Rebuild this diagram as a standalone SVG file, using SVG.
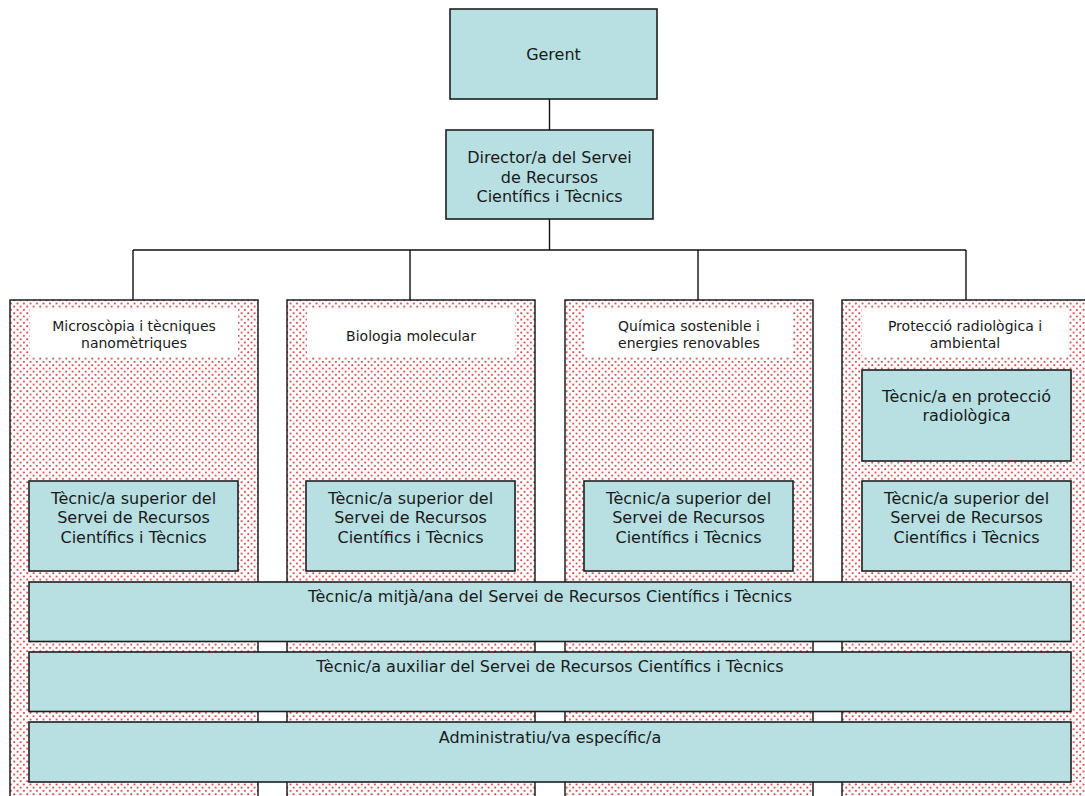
<svg xmlns="http://www.w3.org/2000/svg" width="1085" height="796" viewBox="0 0 1085 796">
  <defs>
    <!-- red dotted fill used by the department columns -->
    <pattern id="dots" width="6.5" height="6.5" patternUnits="userSpaceOnUse">
      <rect width="6.5" height="6.5" fill="#ffffff"/>
      <circle cx="1.2" cy="1.2" r="1" fill="#c62626"/>
      <circle cx="4.45" cy="4.45" r="1" fill="#c62626"/>
    </pattern>
    <style>
      .box { fill: #b8dfe2; stroke: #1e1e1e; stroke-width: 1.6; }
      .col { fill: url(#dots); stroke: #111111; stroke-width: 1.4; }
      .lbl { fill: #ffffff; stroke: none; }
      .t16 { font-family: Verdana, "DejaVu Sans", sans-serif; font-size: 16px; fill: #1a1a1a; text-anchor: middle; }
      .t14 { font-family: Verdana, "DejaVu Sans", sans-serif; font-size: 14px; fill: #1a1a1a; text-anchor: middle; }
      .wire { fill: none; stroke: #111111; stroke-width: 1.4; }
    </style>
  </defs>

  <rect width="1085" height="796" fill="#ffffff"/>

  <!-- connectors -->
  <g id="connectors">
    <line class="wire" x1="549.5" y1="99" x2="549.5" y2="130"/>
    <line class="wire" x1="549.5" y1="219" x2="549.5" y2="250"/>
    <line class="wire" x1="133" y1="250" x2="966" y2="250"/>
    <line class="wire" x1="133" y1="250" x2="133" y2="300"/>
    <line class="wire" x1="410" y1="250" x2="410" y2="300"/>
    <line class="wire" x1="698" y1="250" x2="698" y2="300"/>
    <line class="wire" x1="966" y1="250" x2="966" y2="300"/>
  </g>

  <!-- top management -->
  <g id="gerent">
    <rect class="box" x="450" y="9" width="207" height="90"/>
    <text class="t16" x="553.5" y="59.5">Gerent</text>
  </g>
  <g id="director">
    <rect class="box" x="446" y="130" width="207" height="89"/>
    <text class="t16" x="549.5" y="163">Director/a del Servei</text>
    <text class="t16" x="549.5" y="182.5">de Recursos</text>
    <text class="t16" x="549.5" y="202">Científics i Tècnics</text>
  </g>

  <!-- department columns -->
  <g id="col-microscopia">
    <rect class="col" x="10" y="300" width="248" height="510"/>
    <rect class="lbl" x="30" y="309" width="208" height="48"/>
    <text class="t14" x="134" y="331">Microscòpia i tècniques</text>
    <text class="t14" x="134" y="348">nanomètriques</text>
  </g>
  <g id="col-biologia">
    <rect class="col" x="287" y="300" width="248" height="510"/>
    <rect class="lbl" x="307" y="309" width="208" height="48"/>
    <text class="t14" x="411" y="340.5">Biologia molecular</text>
  </g>
  <g id="col-quimica">
    <rect class="col" x="565" y="300" width="248" height="510"/>
    <rect class="lbl" x="585" y="309" width="208" height="48"/>
    <text class="t14" x="689" y="331">Química sostenible i</text>
    <text class="t14" x="689" y="348">energies renovables</text>
  </g>
  <g id="col-proteccio">
    <rect class="col" x="842" y="300" width="248" height="510"/>
    <rect class="lbl" x="862" y="309" width="206" height="48"/>
    <text class="t14" x="965" y="331">Protecció radiològica i</text>
    <text class="t14" x="965" y="348">ambiental</text>
  </g>

  <!-- radiological protection technician -->
  <g id="tecnic-proteccio">
    <rect class="box" x="862" y="370" width="209" height="91"/>
    <text class="t16" x="966.5" y="402">Tècnic/a en protecció</text>
    <text class="t16" x="966.5" y="421">radiològica</text>
  </g>

  <!-- senior technicians, one per column -->
  <g id="superior-1">
    <rect class="box" x="29" y="481" width="209" height="90"/>
    <text class="t16" x="133.5" y="503.5">Tècnic/a superior del</text>
    <text class="t16" x="133.5" y="523">Servei de Recursos</text>
    <text class="t16" x="133.5" y="542.5">Científics i Tècnics</text>
  </g>
  <g id="superior-2">
    <rect class="box" x="306" y="481" width="209" height="90"/>
    <text class="t16" x="410.5" y="503.5">Tècnic/a superior del</text>
    <text class="t16" x="410.5" y="523">Servei de Recursos</text>
    <text class="t16" x="410.5" y="542.5">Científics i Tècnics</text>
  </g>
  <g id="superior-3">
    <rect class="box" x="584" y="481" width="209" height="90"/>
    <text class="t16" x="688.5" y="503.5">Tècnic/a superior del</text>
    <text class="t16" x="688.5" y="523">Servei de Recursos</text>
    <text class="t16" x="688.5" y="542.5">Científics i Tècnics</text>
  </g>
  <g id="superior-4">
    <rect class="box" x="862" y="481" width="209" height="90"/>
    <text class="t16" x="966.5" y="503.5">Tècnic/a superior del</text>
    <text class="t16" x="966.5" y="523">Servei de Recursos</text>
    <text class="t16" x="966.5" y="542.5">Científics i Tècnics</text>
  </g>

  <!-- shared staff spanning all columns -->
  <g id="mitja">
    <rect class="box" x="29" y="582" width="1042" height="59.5"/>
    <text class="t16" x="550" y="601.5">Tècnic/a mitjà/ana del Servei de Recursos Científics i Tècnics</text>
  </g>
  <g id="auxiliar">
    <rect class="box" x="29" y="652" width="1042" height="59.5"/>
    <text class="t16" x="550" y="672">Tècnic/a auxiliar del Servei de Recursos Científics i Tècnics</text>
  </g>
  <g id="administratiu">
    <rect class="box" x="29" y="722" width="1042" height="60"/>
    <text class="t16" x="550" y="743">Administratiu/va específic/a</text>
  </g>
</svg>
